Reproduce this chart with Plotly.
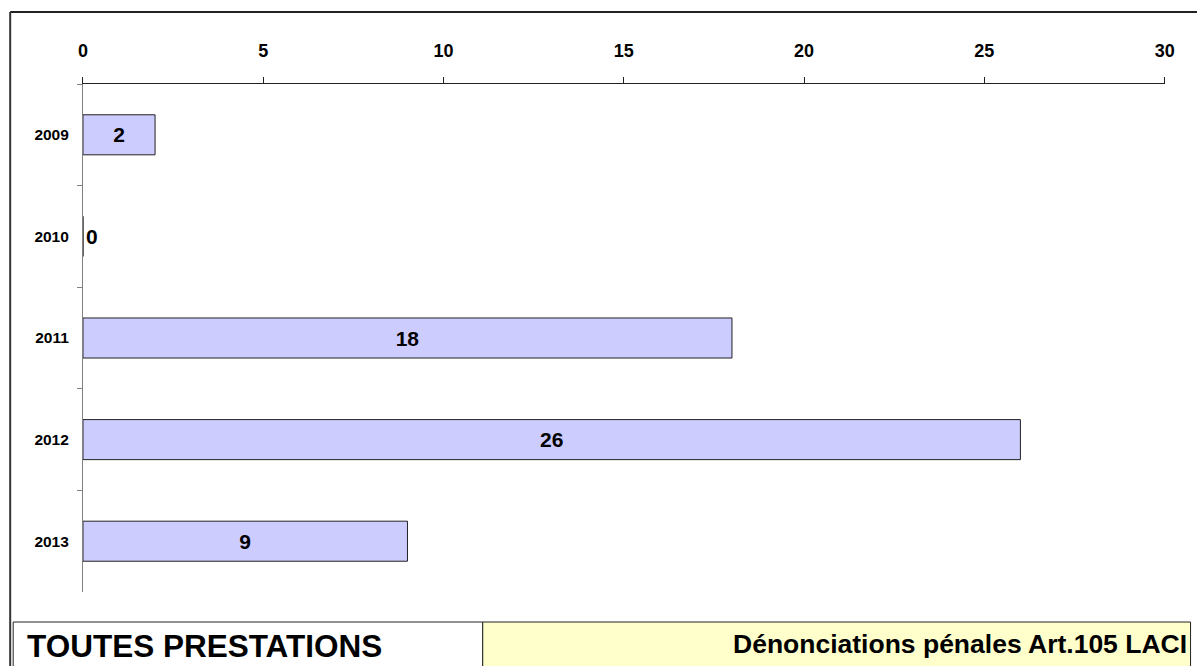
import plotly.graph_objects as go

# Data
years = ["2009", "2010", "2011", "2012", "2013"]
counts = [2, 0, 18, 26, 9]
x_ticks = [0, 5, 10, 15, 20, 25, 30]

left_label = "TOUTES PRESTATIONS"
right_label = "Dénonciations pénales Art.105 LACI"

W, H = 1197, 666
FONT = "Liberation Sans, Arial, sans-serif"


def px_x(x):
    """Horizontal pixel position -> paper fraction (small compensation for page scaling)."""
    return (x - 3.8) / 0.9905 / W


def px_y(y):
    """Vertical pixel position measured from the top -> paper fraction."""
    return 1 - y / H


fig = go.Figure()
fig.add_trace(go.Bar(
    y=years,
    x=counts,
    orientation="h",
    marker=dict(color="#ccccff", line=dict(color="#222222", width=1)),
    text=[str(v) for v in counts],
    textposition=["inside" if v > 0 else "outside" for v in counts],
    insidetextanchor="middle",
    constraintext="none",
    cliponaxis=False,
    textfont=dict(family=FONT, size=21, color="#000000", weight="bold"),
    hoverinfo="skip",
))

fig.update_layout(
    width=W, height=H,
    margin=dict(l=0, r=0, t=0, b=0),
    paper_bgcolor="#ffffff",
    plot_bgcolor="#ffffff",
    showlegend=False,
    bargap=0.606,
    font=dict(family=FONT, color="#000000"),
    xaxis=dict(
        domain=[px_x(82), px_x(1167)],
        range=[0, 30],
        side="top",
        tickvals=x_ticks,
        ticks="outside",
        ticklen=6,
        tickcolor="#222222",
        showline=True,
        linecolor="#222222",
        linewidth=1,
        showgrid=False,
        zeroline=False,
        ticklabelstandoff=13,
        tickfont=dict(family=FONT, size=18, weight="bold"),
    ),
    yaxis=dict(
        domain=[px_y(592), px_y(84)],
        type="category",
        autorange="reversed",
        tickson="boundaries",
        ticks="outside",
        ticklen=5,
        tickcolor="#808080",
        showline=True,
        linecolor="#808080",
        linewidth=1,
        showgrid=False,
        ticklabelstandoff=10,
        tickfont=dict(family=FONT, size=15.5, weight="bold"),
    ),
)

# Outer frame (top and left edges)
fig.add_shape(type="line", xref="paper", yref="paper",
              x0=px_x(9), x1=1.02, y0=px_y(12), y1=px_y(12),
              line=dict(color="#222222", width=2))
fig.add_shape(type="line", xref="paper", yref="paper",
              x0=px_x(9), x1=px_x(9), y0=-0.01, y1=px_y(12),
              line=dict(color="#333333", width=2))

# Footer boxes
fig.add_shape(type="rect", xref="paper", yref="paper",
              x0=px_x(12), x1=px_x(483), y0=-0.01, y1=px_y(622),
              fillcolor="#ffffff", line=dict(color="#222222", width=1))
fig.add_shape(type="rect", xref="paper", yref="paper",
              x0=px_x(483), x1=px_x(1193), y0=-0.01, y1=px_y(622),
              fillcolor="#ffffcc", line=dict(color="#222222", width=1))

fig.add_annotation(xref="paper", yref="paper", x=px_x(24), y=px_y(646),
                   xanchor="left", yanchor="middle", showarrow=False,
                   text=left_label,
                   font=dict(family=FONT, size=31.5, weight="bold", color="#000000"))
fig.add_annotation(xref="paper", yref="paper", x=px_x(1191), y=px_y(644),
                   xanchor="right", yanchor="middle", showarrow=False,
                   text=right_label,
                   font=dict(family=FONT, size=26.5, weight="bold", color="#000000"))

fig.write_html("out.html")
